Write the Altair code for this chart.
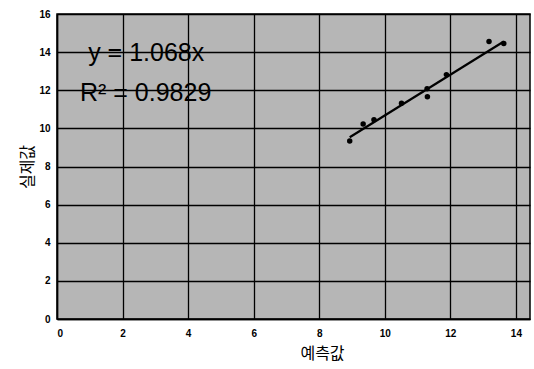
import altair as alt
import pandas as pd

pred = [8.93, 9.34, 9.67, 10.51, 11.30, 11.29, 11.88, 13.18, 13.63]
actual = [9.34, 10.23, 10.45, 11.32, 11.66, 12.08, 12.82, 14.56, 14.45]
slope = 1.068
r2 = 0.9829
x_ticks = [0, 2, 4, 6, 8, 10, 12, 14]
y_ticks = [0, 2, 4, 6, 8, 10, 12, 14, 16]

pts = pd.DataFrame({"pred": pred, "actual": actual})
xmin, xmax = min(pred), max(pred)
line_df = pd.DataFrame({"pred": [xmin, xmax], "actual": [slope * xmin, slope * xmax]})
txt_df = pd.DataFrame({
    "pred": [0.95, 0.7],
    "actual": [13.95, 11.85],
    "label": [f"y = {slope}x", f"R\u00b2 = {r2}"],
})

xs = alt.Scale(domain=[0, 14.43], nice=False, zero=False)
ys = alt.Scale(domain=[0, 16], nice=False)

xenc = alt.X("pred:Q", scale=xs, axis=alt.Axis(values=x_ticks, title="예측값"))
yenc = alt.Y("actual:Q", scale=ys, axis=alt.Axis(values=y_ticks, title="실제값"))

points = alt.Chart(pts).mark_circle(color="black", size=30, opacity=1).encode(x=xenc, y=yenc)
line = alt.Chart(line_df).mark_line(color="black", strokeWidth=2.2).encode(x=xenc, y=yenc)
text = alt.Chart(txt_df).mark_text(
    align="left", baseline="middle", fontSize=25, font="Liberation Sans", color="black"
).encode(x=xenc, y=yenc, text="label:N")

chart = alt.layer(points, line, text).properties(
    width=473,
    height=305,
    autosize=alt.AutoSizeParams(type="none"),
    padding={"left": 57, "top": 14, "right": 4, "bottom": 50},
).configure_view(
    fill="#b6b6b6", stroke="black", strokeWidth=1.5
).configure_axis(
    grid=True,
    gridColor="black",
    gridWidth=1.3,
    gridOpacity=1,
    domainColor="black",
    domainWidth=1.5,
    ticks=False,
    labelFont="Liberation Sans",
    labelFontWeight="bold",
    labelFontSize=10,
    labelColor="black",
    titleFont="Noto Sans CJK KR",
    titleFontSize=16,
    titleFontWeight="normal",
    titleColor="black",
).configure_axisX(
    labelPadding=9,
    titleX=265,
    titleY=26,
).configure_axisY(
    labelPadding=7,
    titleX=-22,
)

chart.save("out.html", embed_options={"renderer": "svg", "actions": False})
